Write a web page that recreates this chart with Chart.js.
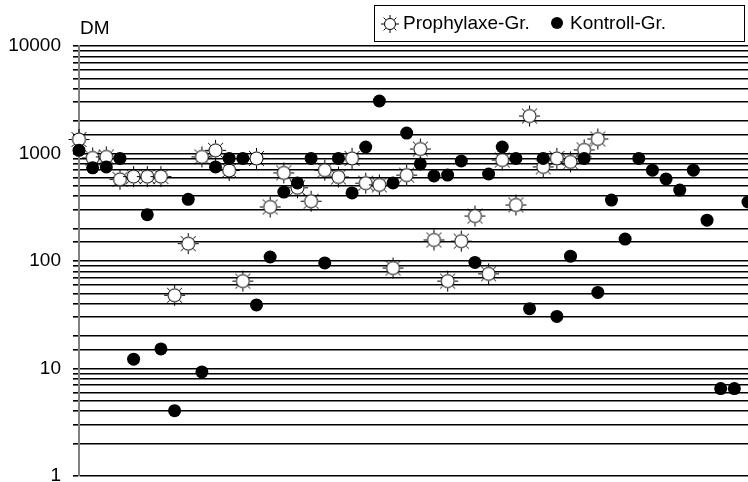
<!DOCTYPE html>
<html>
<head>
<meta charset="utf-8">
<script src="https://cdn.jsdelivr.net/npm/chart.js@4/dist/chart.umd.min.js"></script>
<style>
  html, body { margin: 0; padding: 0; background: #fff; }
  #c { display: block; }
</style>
</head>
<body>
<canvas id="c" width="748" height="482"></canvas>
<script>
// Patienten (eine Spalte pro Patient)
const patienten = ['1','2','3','4','5','6','7','8','9','10','11','12','13','14','15','16','17','18','19','20',
  '21','22','23','24','25','26','27','28','29','30','31','32','33','34','35','36','37','38','39','40',
  '41','42','43','44','45','46','47','48','49','50'];

// DM-Werte Prophylaxe-Gruppe
const prophylaxe = [1350, 910, 930, 575, 610, 610, 610, 48, 145, 930,
  1070, 695, 65, 900, 318, 660, 480, 360, 700, 605,
  900, 530, 510, 86, 630, 1100, 157, 65, 153, 262,
  76, 870, 332, 2230, 750, 900, 835, 1080, 1365, null,
  null, null, null, null, null, null, null, null, null, null];

// DM-Werte Kontroll-Gruppe
const kontrolle = [1070, 735, 750, 900, 12.2, 270, 15.2, 4.05, 375, 9.3,
  750, 900, 900, 39, 109, 438, 532, 900, 96, 900,
  430, 1150, 3080, 532, 1550, 800, 618, 630, 852, 97,
  645, 1150, 900, 36, 900, 30.5, 111, 900, 51, 369,
  160, 900, 700, 580, 457, 700, 240, 6.5, 6.5, 354];

const yTicks = [1, 10, 100, 1000, 10000];
const legendLabels = ['Prophylaxe-Gr.', 'Kontroll-Gr.'];

const schrift = 'Liberation Sans, Arial, sans-serif';

// Sonnen-Symbol fuer die Prophylaxe-Gruppe
function sonne(r, strahl) {
  const size = Math.ceil((r + strahl) * 2 + 4);
  const cv = document.createElement('canvas');
  cv.width = size; cv.height = size;
  const g = cv.getContext('2d');
  const m = size / 2;
  g.strokeStyle = '#000';
  g.lineWidth = 1;
  for (let i = 0; i < 8; i++) {
    const a = i * Math.PI / 4;
    g.beginPath();
    g.moveTo(m + Math.cos(a) * (r + 0.5), m + Math.sin(a) * (r + 0.5));
    g.lineTo(m + Math.cos(a) * (r + strahl), m + Math.sin(a) * (r + strahl));
    g.stroke();
  }
  g.beginPath();
  g.arc(m, m, r, 0, Math.PI * 2);
  g.fillStyle = '#fff';
  g.fill();
  g.stroke();
  return cv;
}

const sonnePunkt = sonne(6.5, 4);
const sonneLegende = sonne(5.5, 3.5);

// keine Extra-Raender durch die Achsen
function ohnePadding(scale) {
  scale.paddingTop = 0;
  scale.paddingBottom = 0;
  scale.paddingLeft = 0;
  scale.paddingRight = 0;
}

// DM-Beschriftung und Legende mit Rahmen
const extras = {
  id: 'extras',
  afterDraw(chart) {
    const ctx = chart.ctx;
    ctx.save();
    ctx.fillStyle = '#000';
    ctx.font = '19px ' + schrift;
    ctx.textBaseline = 'middle';
    ctx.textAlign = 'left';
    ctx.fillText('DM', 80, 29);

    ctx.strokeStyle = '#000';
    ctx.lineWidth = 1;
    ctx.strokeRect(374.5, 5.5, 370, 36);

    ctx.drawImage(sonneLegende, 390 - sonneLegende.width / 2, 24 - sonneLegende.height / 2);
    ctx.fillText(legendLabels[0], 403, 24);
    ctx.beginPath();
    ctx.arc(557, 23, 6, 0, Math.PI * 2);
    ctx.fill();
    ctx.fillText(legendLabels[1], 570, 24);
    ctx.restore();
  }
};

new Chart(document.getElementById('c'), {
  type: 'line',
  data: {
    labels: patienten,
    datasets: [
      {
        label: legendLabels[0],
        data: prophylaxe,
        showLine: false,
        pointStyle: sonnePunkt,
        pointRadius: 10,
        pointHoverRadius: 10,
        clip: false,
        order: 1
      },
      {
        label: legendLabels[1],
        data: kontrolle,
        showLine: false,
        pointStyle: 'circle',
        pointRadius: 6.5,
        pointHoverRadius: 6.5,
        pointBackgroundColor: '#000',
        pointBorderColor: '#000',
        pointBorderWidth: 0,
        clip: false,
        order: 0
      }
    ]
  },
  options: {
    responsive: false,
    devicePixelRatio: 1,
    animation: false,
    layout: { autoPadding: false, padding: { top: 46, left: 0, right: 0, bottom: 6 } },
    plugins: {
      legend: { display: false },
      tooltip: { enabled: false }
    },
    scales: {
      x: {
        type: 'category',
        offset: false,
        display: false,
        afterFit: ohnePadding
      },
      y: {
        type: 'logarithmic',
        min: 1,
        max: 10000,
        afterFit(scale) {
          ohnePadding(scale);
          scale.width = 79;
        },
        border: { display: true, color: '#808080', width: 2 },
        grid: { color: '#000', lineWidth: 1.6, tickLength: 6, drawTicks: true },
        ticks: {
          autoSkip: false,
          padding: 12,
          color: '#000',
          font: { family: schrift, size: 19 },
          callback: (v) => yTicks.includes(Number(v)) ? String(v) : ''
        }
      }
    }
  },
  plugins: [extras]
});
</script>
</body>
</html>
